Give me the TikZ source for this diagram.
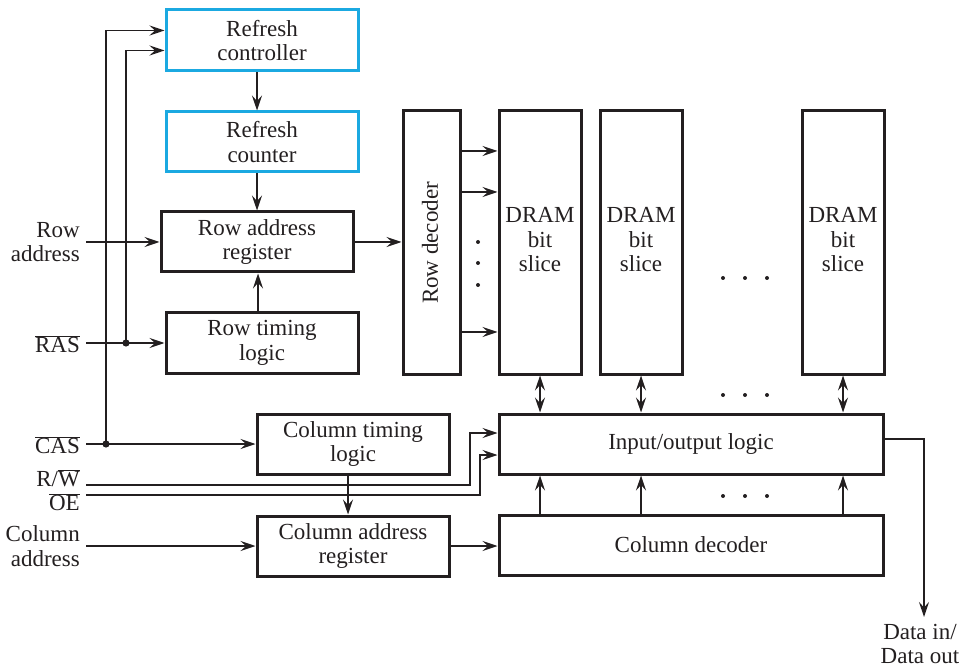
\documentclass[tikz,border=0pt]{standalone}
\usepackage{fontspec}
\setmainfont{Liberation Serif}
\usetikzlibrary{arrows.meta}
\definecolor{ink}{HTML}{231F20}
\definecolor{cyanb}{HTML}{1BA9E1}
\newcommand\ovl[1]{$\overline{\hbox{#1}}$}
\begin{document}
\begin{tikzpicture}[x=1pt,y=-1pt,
  font=\fontsize{23}{24.5}\selectfont,
  box/.style={draw=ink, line width=3pt, inner sep=0pt, align=center, text=ink},
  bluebox/.style={box, draw=cyanb},
  tip/.tip={Stealth[length=15pt,width=10pt,inset=5.5pt]},
  conn/.style={draw=ink, line width=1.4pt, -tip},
  dconn/.style={draw=ink, line width=1.4pt, tip-tip},
  wire/.style={draw=ink, line width=1.4pt},
  lab/.style={text=ink, align=right, anchor=east, inner sep=0pt},
  ]
\path[use as bounding box] (0,0) rectangle (964,668);

% boxes
\node[bluebox, minimum width=192pt, minimum height=61pt] (rc) at (262,40.5) {Refresh\\controller};
\node[bluebox, minimum width=192pt, minimum height=60pt] (rcnt) at (262,142) {Refresh\\counter};
\node[box, minimum width=192pt, minimum height=60pt] (rar) at (257,242) {Row address\\register};
\node[box, minimum width=192pt, minimum height=60pt] (rtl) at (262,343) {Row timing\\logic};
\node[box, minimum width=192pt, minimum height=60pt] (ctl) at (353,444) {Column timing\\logic};
\node[box, minimum width=192pt, minimum height=60pt] (car) at (353,546) {Column address\\register};
\node[box, minimum width=57pt, minimum height=263pt] (rd) at (431.5,242.5) {};
\node[text=ink, rotate=90] (rdt) at (430,243) {Row decoder};
\node[box, minimum width=82pt, minimum height=263pt] (d1) at (540,242.5) {};
\node[box, minimum width=82pt, minimum height=263pt] (d2) at (641,242.5) {};
\node[box, minimum width=82pt, minimum height=263pt] (d3) at (843,242.5) {};
\node[text=ink, align=center] (d1t) at (540,240) {DRAM\\bit\\slice};
\node[text=ink, align=center] (d2t) at (641,240) {DRAM\\bit\\slice};
\node[text=ink, align=center] (d3t) at (843,240) {DRAM\\bit\\slice};
\node[box, minimum width=384pt, minimum height=60pt] (io) at (691,444) {Input/output logic};
\node[box, minimum width=384pt, minimum height=60pt] (cd) at (691,545) {Column decoder};

% input labels
\node[lab] (lra) at (80,242) {Row\\address};
\node[lab] (lras) at (80,344) {\ovl{RAS}};
\node[lab] (lcas) at (80,445) {\ovl{CAS}};
\node[lab] (lrw) at (80,478) {R/\ovl{W}};
\node[lab] (loe) at (80,502) {\ovl{OE}};
\node[lab] (lca) at (80,546) {Column\\address};
\node[text=ink, align=center, anchor=north, inner sep=0pt] (ldo) at (920,624) {Data in/\\Data out};

% coordinates
\coordinate (rain) at (86,242);
\coordinate (rasin) at (86,343);
\coordinate (casin) at (86,444);
\coordinate (rwin) at (86,485);
\coordinate (oein) at (86,495);
\coordinate (cain) at (86,546);
\coordinate (rasdot) at (126,343);
\coordinate (casdot) at (106,444);
\coordinate (rwup) at (470,485);
\coordinate (oeup) at (480,495);
\coordinate (dout) at (924,617);

% left connections
\draw[conn] (rain) -- (rar.west);
\draw[conn] (rasin) -- (rtl.west);
\draw[conn] (casin) -- (ctl.west);
\draw[conn] (cain) -- (car.west);
\draw[conn] (rasdot) |- ([yshift=-10pt]rc.west);
\draw[conn] (casdot) |- ([yshift=10pt]rc.west);
\fill[ink] (rasdot) circle (3.6pt);
\fill[ink] (casdot) circle (3.6pt);
\draw[conn] (rwin) -- (rwup) |- ([yshift=11pt]io.west);
\draw[conn] (oein) -- (oeup) |- ([yshift=-11pt]io.west);

% vertical chain
\draw[conn] (rc.south -| rar) -- (rcnt.north -| rar);
\draw[conn] (rcnt.south -| rar) -- (rar.north);
\draw[conn] ([xshift=1pt]rtl.north -| rar) -- ([xshift=1pt]rar.south);
\draw[conn] ([xshift=-5pt]ctl.south) -- ([xshift=-5pt]car.north);
\draw[conn] (car.east) -- (car.east -| cd.west);
\draw[conn] (rar.east) -- (rar.east -| rd.west);

% row decoder outputs
\draw[conn] ([yshift=91.5pt]rd.east) -- ([yshift=91.5pt]d1.west);
\draw[conn] ([yshift=50.5pt]rd.east) -- ([yshift=50.5pt]d1.west);
\draw[conn] ([yshift=-89.5pt]rd.east) -- ([yshift=-89.5pt]d1.west);
\foreach \yy in {242,263,285} \fill[ink] (478,\yy) circle (2pt);

% slices to io
\draw[dconn] (d1.south) -- (d1.south |- io.north);
\draw[dconn] (d2.south) -- (d2.south |- io.north);
\draw[dconn] (d3.south) -- (d3.south |- io.north);
\draw[conn] (cd.north -| d1) -- (io.south -| d1);
\draw[conn] (cd.north -| d2) -- (io.south -| d2);
\draw[conn] (cd.north -| d3) -- (io.south -| d3);

% ellipsis dots
\foreach \yy in {278,395,496} \foreach \xx in {723,745,767} \fill[ink] (\xx,\yy) circle (2pt);

% data out
\draw[conn] ([yshift=5pt]io.east) -| (dout);
\end{tikzpicture}
\end{document}
